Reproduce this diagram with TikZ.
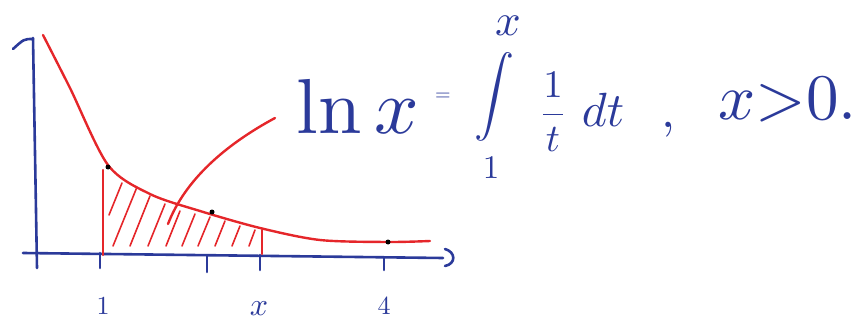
\documentclass[tikz,border=0pt]{standalone}
\usepackage{tikz}
\usetikzlibrary{calc}
\definecolor{inkblue}{HTML}{2B3A9A}
\definecolor{inkred}{HTML}{E5262A}

\begin{document}
\begin{tikzpicture}[x=1pt, y=-1pt,
  axis/.style={line width=2.6pt, inkblue, line cap=round},
  curve/.style={line width=2.4pt, inkred, line cap=round},
  hatch/.style={line width=1.6pt, inkred, line cap=round},
  ink/.style={inkblue, inner sep=0pt},
  dot/.style={circle, fill=black, inner sep=0pt, minimum size=5pt}
]
  \useasboundingbox (0,0) rectangle (862,326);

  % Axes
  \draw[axis] (37,268) -- (33,38);
  \draw[axis] (33,39) .. controls (24,39) .. (13,49);
  \draw[axis] (23,253) -- (443,258);
  \draw[axis] (445,249) .. controls (456,252) and (456,264) .. (445,266);
  \foreach \tx/\ta/\tb in {100/253/268, 207/256/272, 260/255/270, 384/258/270}
    \draw[axis] (\tx,\ta) -- (\tx,\tb);

  % Tick labels
  \node[ink, scale=2.6] (one) at (103,306) {$1$};
  \node[ink, scale=3.2] (ex) at (259,309) {$x$};
  \node[ink, scale=2.6] (four) at (384,306) {$4$};

  % Area under 1/t
  \draw[curve] (103,170) -- (103,255);
  \draw[curve] (262,230) -- (262,254);
  \foreach \xa/\ya/\xb/\yb in {122/183/109/215, 137/187/113/246, 150/196/130/246,
      165/204/148/246, 180/211/166/246, 195/214/182/246, 210/217/198/246,
      225/221/215/246, 240/226/232/246, 255/230/249/246}
    \draw[hatch] (\xa,\ya) -- (\xb,\yb);

  % Graph of 1/t
  \draw[curve] plot[smooth, tension=0.5] coordinates {(43,35) (70,88) (108,165)
    (150,194) (200,211) (260,228) (320,240) (388,242) (430,241)};
  \node[dot] (p1) at (108,167) {};
  \node[dot] (p2) at (212,212) {};
  \node[dot] (p3) at (388,242) {};

  % Formula
  \node[ink, anchor=base west, scale=7.8] (lnx) at (295,134) {$\ln x$};
  \node[ink, scale=2.0] (eq) at (443,97) {$=$};
  \node[ink, scale=4.0] (integral) at (494,97) {$\displaystyle\int$};
  \node[ink, scale=4.5] (upper) at (508,26) {$x$};
  \node[ink, scale=3.3] (lower) at (491,168) {$1$};
  \node[ink, scale=3.9] (frac) at (553,112) {$\displaystyle\frac{1}{t}$};
  \node[ink, anchor=base west, scale=4.8] (dt) at (581,127) {$dt$};
  \node[ink, anchor=base west, scale=5.0] (comma) at (660,128) {$,$};
  \node[ink, anchor=base west, scale=6.5] (cond) at (717,120) {$x{>}0.$};

  % Pointer
  \coordinate (tip) at (168,224);
  \draw[curve] (275,118) .. controls (225,145) and (185,180) .. (tip);
\end{tikzpicture}
\end{document}
